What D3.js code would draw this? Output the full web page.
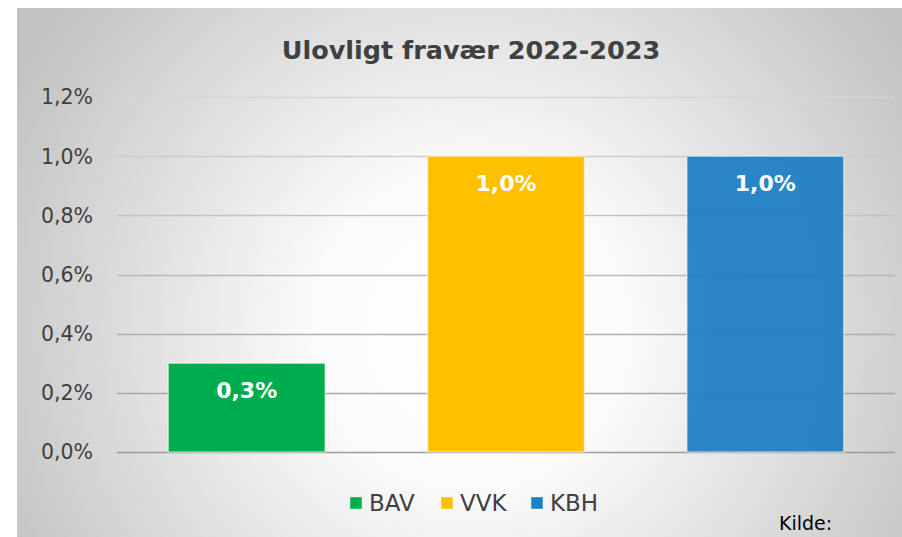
<!DOCTYPE html>
<html>
<head>
<meta charset="utf-8">
<script src="https://cdn.jsdelivr.net/npm/d3@7"></script>
<style>
  body { margin: 0; background: #fff; }
  svg { display: block; font-family: "DejaVu Sans", "Noto Sans", sans-serif; }
</style>
</head>
<body>
<div id="chart"></div>
<script>
// Ulovligt fravær 2022-2023, three schools
const categories = ["BAV", "VVK", "KBH"];
const values = [0.3, 1.0, 1.0];
const colors = ["#00ad4e", "#ffc000", "#2080c5"];
const tickValues = [0, 0.2, 0.4, 0.6, 0.8, 1.0, 1.2];

let width = 902;
let height = 537;

const fmt = d => d.toFixed(1).replace(".", ",") + "%";

const svg = d3.select("#chart")
    .append("svg")
    .attr("width", width)
    .attr("height", height);

// background gradient, white in the middle, gray at the edges
const defs = svg.append("defs");
const grad = defs.append("radialGradient")
    .attr("id", "bg")
    .attr("gradientUnits", "userSpaceOnUse")
    .attr("cx", 470).attr("cy", 330)
    .attr("r", 520);
grad.append("stop").attr("offset", "0%").attr("stop-color", "#ffffff");
grad.append("stop").attr("offset", "30%").attr("stop-color", "#fbfbfb");
grad.append("stop").attr("offset", "100%").attr("stop-color", "#c2c2c2");

svg.append("rect")
    .attr("x", 17).attr("y", 8)
    .attr("width", width - 17).attr("height", height - 8)
    .attr("fill", "url(#bg)");

const plotLeft = 117, plotRight = 895;

const x = d3.scaleBand().domain(categories).range([plotLeft, plotRight]);
const y = d3.scaleLinear().domain([0, 1.2]).range([452, 97]);
const gridColor = d3.scaleLinear().domain([0, 1.2]).range(["#9c9c9c", "#d6d6d6"]);

// grid lines
svg.append("g")
    .selectAll("line")
    .data(tickValues)
    .join("line")
    .attr("x1", plotLeft)
    .attr("x2", plotRight)
    .attr("y1", d => Math.round(y(d)) + 0.5)
    .attr("y2", d => Math.round(y(d)) + 0.5)
    .attr("stroke", d => gridColor(d))
    .attr("stroke-width", 1.5);

// y tick labels
svg.append("g")
    .selectAll("text")
    .data(tickValues)
    .join("text")
    .attr("x", 93)
    .attr("y", d => y(d))
    .attr("dy", "0.36em")
    .attr("text-anchor", "end")
    .attr("font-size", "20.5px")
    .attr("fill", "#404040")
    .text(fmt);

// bars
const barW = x.bandwidth() * 0.605;
svg.append("g")
    .selectAll("rect")
    .data(categories)
    .join("rect")
    .attr("x", d => x(d) + (x.bandwidth() - barW) / 2)
    .attr("y", (d, i) => y(values[i]))
    .attr("width", barW)
    .attr("height", (d, i) => y(0) - y(values[i]))
    .attr("fill", (d, i) => colors[i])
    .attr("fill-opacity", (d, i) => i === 2 ? 0.95 : 1)
    .attr("stroke", "#ffffff")
    .attr("stroke-opacity", 0.5)
    .attr("stroke-width", 1.5);

// data labels
svg.append("g")
    .selectAll("text")
    .data(categories)
    .join("text")
    .attr("x", d => x(d) + x.bandwidth() / 2)
    .attr("y", (d, i) => y(values[i]) + 27)
    .attr("dy", "0.36em")
    .attr("text-anchor", "middle")
    .attr("font-size", "22px")
    .attr("font-weight", "bold")
    .attr("fill", "#ffffff")
    .text((d, i) => fmt(values[i]));

// title
svg.append("text")
    .attr("x", 471)
    .attr("y", 59)
    .attr("text-anchor", "middle")
    .attr("font-size", "25.5px")
    .attr("font-weight", "bold")
    .attr("fill", "#404040")
    .text("Ulovligt fravær 2022-2023");

// legend
const legend = svg.append("g")
    .selectAll("g")
    .data(categories)
    .join("g")
    .attr("transform", (d, i) => `translate(${[350, 441, 531][i]},503)`);

legend.append("rect")
    .attr("x", 0).attr("y", -6)
    .attr("width", 12).attr("height", 12)
    .attr("fill", (d, i) => colors[i])
    .attr("stroke", "#ffffff")
    .attr("stroke-opacity", 0.4);

legend.append("text")
    .attr("x", 19)
    .attr("dy", "0.36em")
    .attr("font-size", "23px")
    .attr("fill", "#404040")
    .text(d => d);

// source note
svg.append("text")
    .attr("x", 779)
    .attr("y", 530)
    .attr("font-size", "19px")
    .attr("fill", "#000")
    .text("Kilde:");
</script>
</body>
</html>
